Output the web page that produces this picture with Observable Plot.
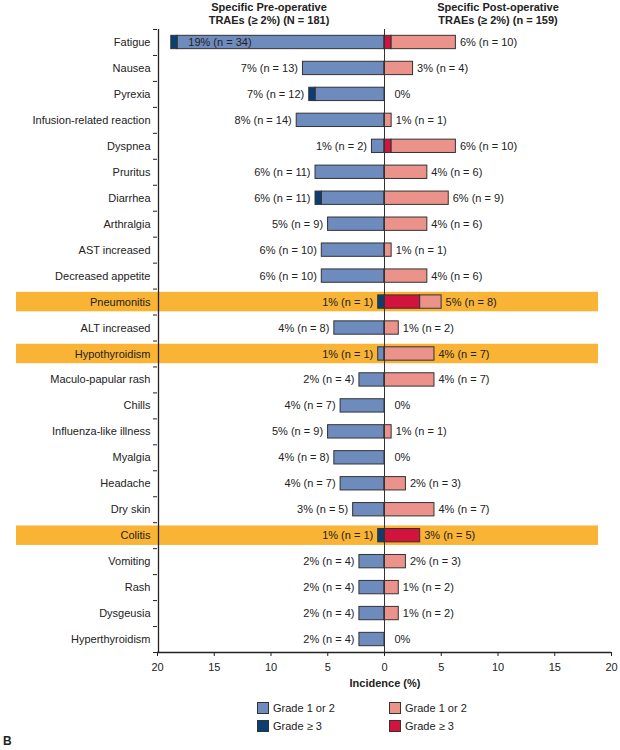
<!DOCTYPE html>
<html>
<head>
<meta charset="utf-8">
<script src="https://cdn.jsdelivr.net/npm/d3@7"></script>
<script src="https://cdn.jsdelivr.net/npm/@observablehq/plot@0.6"></script>
<style>
  body { margin: 0; background: #fff; font-family: "Liberation Sans", Arial, sans-serif; color: #222; }
  #wrap { position: relative; width: 620px; height: 750px; overflow: hidden; }
  #wrap svg { position: absolute; left: 0; top: 0; }
  .abs { position: absolute; }
  .hdr { font-weight: bold; font-size: 11px; line-height: 13px; text-align: center; width: 240px; top: 1px; }
  .lbox { position: absolute; width: 12px; height: 12px; box-sizing: border-box; border: 1px solid #333; }
  .ltxt { position: absolute; font-size: 11px; line-height: 14px; }
</style>
</head>
<body>
<div id="wrap"></div>
<script>
// ---- data ----
const categories = ["Fatigue", "Nausea", "Pyrexia", "Infusion-related reaction", "Dyspnea", "Pruritus",
  "Diarrhea", "Arthralgia", "AST increased", "Decreased appetite", "Pneumonitis", "ALT increased",
  "Hypothyroidism", "Maculo-papular rash", "Chills", "Influenza-like illness", "Myalgia", "Headache",
  "Dry skin", "Colitis", "Vomiting", "Rash", "Dysgeusia", "Hyperthyroidism"];
const preN = 181;
const postN = 159;
const preTotal  = [34, 13, 12, 14, 2, 11, 11, 9, 10, 10, 1, 8, 1, 4, 7, 9, 8, 7, 5, 1, 4, 4, 4, 4];
const preGrade3 = [1, 0, 1, 0, 0, 0, 1, 0, 0, 0, 1, 0, 0, 0, 0, 0, 0, 0, 0, 1, 0, 0, 0, 0];
const postTotal  = [10, 4, 0, 1, 10, 6, 9, 6, 1, 6, 8, 2, 7, 7, 0, 1, 0, 3, 7, 5, 3, 2, 2, 0];
const postGrade3 = [1, 0, 0, 0, 1, 0, 0, 0, 0, 0, 5, 0, 0, 0, 0, 0, 0, 0, 0, 5, 0, 0, 0, 0];
const highlighted = ["Pneumonitis", "Hypothyroidism", "Colitis"];
const xTicks = [-20, -15, -10, -5, 0, 5, 10, 15, 20];

const colPreLow = "#6E8BBD", colPreHigh = "#0B3F74", colPostLow = "#EB928B", colPostHigh = "#D1133D";
const colBand = "#F9B335";

const rows = categories.map((c, i) => ({
  c, i,
  preT: preTotal[i] / preN * 100, preS: preGrade3[i] / preN * 100, preNn: preTotal[i],
  postT: postTotal[i] / postN * 100, postS: postGrade3[i] / postN * 100, postNn: postTotal[i]
}));
const lbl = (n, N) => n === 0 ? "0%" : `${Math.round(n / N * 100)}% (n = ${n})`;

const segs = [];
for (const r of rows) {
  segs.push({i: r.i, x1: 0, x2: -(r.preT - r.preS), fill: colPreLow});
  segs.push({i: r.i, x1: -(r.preT - r.preS), x2: -r.preT, fill: colPreHigh});
  segs.push({i: r.i, x1: 0, x2: r.postS, fill: colPostHigh});
  segs.push({i: r.i, x1: r.postS, x2: r.postT, fill: colPostLow});
}
const bars = segs.filter(d => Math.abs(d.x2 - d.x1) > 1e-9);
const bandRows = rows.filter(r => highlighted.includes(r.c));
const hb = 0.375, bh = 0.257;

const plot = Plot.plot({
  width: 620,
  height: 692,
  marginLeft: 157,
  marginRight: 9,
  marginTop: 29,
  marginBottom: 40,
  style: {fontFamily: "Liberation Sans, Arial, sans-serif", fontSize: "11px", color: "#222", background: "transparent"},
  x: {domain: [-20, 20]},
  y: {domain: [categories.length - 0.5, -0.5]},
  marks: [
    Plot.rect(bandRows, {y1: d => d.i - hb, y2: d => d.i + hb, fill: colBand, insetLeft: -141, insetRight: 13}),
    Plot.rect(bars, {x1: "x1", x2: "x2", y1: d => d.i - bh, y2: d => d.i + bh, fill: "fill", stroke: "#333", strokeWidth: 1}),
    Plot.ruleX([0], {stroke: "#333", strokeWidth: 1}),
    Plot.ruleX([-20], {stroke: "#222", strokeWidth: 1.3, dx: 1}),
    Plot.ruleY([categories.length - 0.5], {stroke: "#222", strokeWidth: 1.3}),
    Plot.axisY({ticks: d3.range(categories.length), tickFormat: i => categories[i], tickSize: 0, tickPadding: 7, label: null, fontSize: 11}),
    Plot.axisY({ticks: d3.range(-0.5, categories.length, 1), tickFormat: () => "", tickSize: 4, label: null, stroke: "#222"}),
    Plot.axisX({ticks: xTicks, tickFormat: d => Math.abs(d), tickSize: 4, tickPadding: 7, label: null, fontSize: 11, stroke: "#222"}),
    // pre labels outside
    Plot.text(rows.filter(r => r.preT < 15), {x: d => -d.preT, y: "i", text: d => lbl(d.preNn, preN), textAnchor: "end", dx: -5, fontSize: 11, fill: "#222"}),
    // pre labels inside long bars
    Plot.text(rows.filter(r => r.preT >= 15), {x: d => -d.preT, y: "i", text: d => lbl(d.preNn, preN), textAnchor: "start", dx: 17, fontSize: 11, fill: "#222"}),
    // post labels
    Plot.text(rows.filter(r => r.postNn > 0), {x: d => d.postT, y: "i", text: d => lbl(d.postNn, postN), textAnchor: "start", dx: 4, fontSize: 11, fill: "#222"}),
    Plot.text(rows.filter(r => r.postNn === 0), {x: d => d.postT, y: "i", text: d => lbl(d.postNn, postN), textAnchor: "start", dx: 10, fontSize: 11, fill: "#222"})
  ]
});

const wrap = document.getElementById("wrap");
wrap.appendChild(plot);

function addDiv(cls, html, style) {
  const d = document.createElement("div");
  d.className = cls;
  d.innerHTML = html;
  Object.assign(d.style, style);
  wrap.appendChild(d);
  return d;
}
addDiv("abs hdr", "Specific Pre-operative<br>TRAEs (≥ 2%) (N = 181)", {left: "149px"});
addDiv("abs hdr", "Specific Post-operative<br>TRAEs (≥ 2%) (n = 159)", {left: "378px"});
addDiv("abs", "Incidence (%)", {left: "285px", width: "200px", textAlign: "center", top: "676px", fontSize: "11px", lineHeight: "14px", fontWeight: "bold"});

const legendItems = [
  {label: "Grade 1 or 2", color: colPreLow, x: 257, y: 702},
  {label: "Grade ≥ 3", color: colPreHigh, x: 257, y: 720},
  {label: "Grade 1 or 2", color: colPostLow, x: 389, y: 702},
  {label: "Grade ≥ 3", color: colPostHigh, x: 389, y: 720}
];
for (const it of legendItems) {
  addDiv("lbox", "", {left: it.x + "px", top: it.y + "px", background: it.color});
  addDiv("ltxt", it.label, {left: (it.x + 16) + "px", top: (it.y - 1) + "px"});
}
addDiv("abs", "B", {left: "3px", top: "734px", fontSize: "12px", fontWeight: "bold", lineHeight: "14px"});
</script>
</body>
</html>
